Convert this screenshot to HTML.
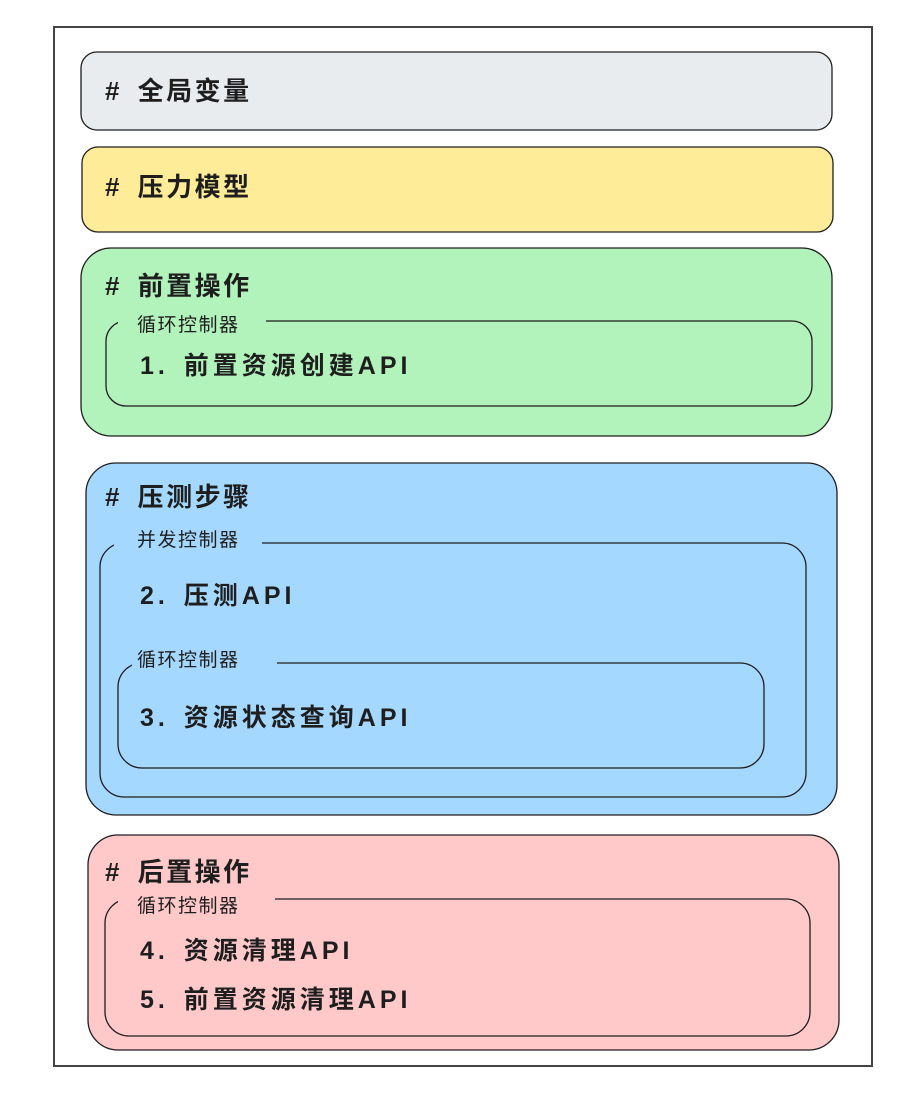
<!DOCTYPE html>
<html><head><meta charset="utf-8"><style>
html,body{margin:0;padding:0;background:#fff;}
svg{display:block;}
text{font-family:"Liberation Sans","Noto Sans CJK SC",sans-serif;fill:#1e1e1e;}
.h{font-size:26px;font-weight:bold;letter-spacing:2.5px;word-spacing:6px;}
.t{font-size:25px;font-weight:bold;letter-spacing:4px;word-spacing:4px;}
.l{font-size:19px;letter-spacing:1.5px;}
</style></head><body>
<svg width="924" height="1104" viewBox="0 0 924 1104" xmlns="http://www.w3.org/2000/svg">
<rect x="54" y="27" width="818" height="1039" fill="#fff" stroke="#444" stroke-width="2"/>
<g stroke="#1e1e1e" stroke-width="1.3">
<rect x="81" y="52" width="751" height="78" rx="16" fill="#e9ecef"/>
<rect x="82" y="147" width="751" height="85" rx="16" fill="#ffec99"/>
<rect x="81" y="248" width="751" height="188" rx="30" fill="#b2f2bb"/>
<rect x="106" y="321" width="706" height="85" rx="20" fill="#b2f2bb"/>
<rect x="86" y="463" width="751" height="352" rx="30" fill="#a5d8ff"/>
<rect x="100" y="543" width="706" height="254" rx="24" fill="#a5d8ff"/>
<rect x="118" y="663" width="646" height="105" rx="24" fill="#a5d8ff"/>
<rect x="88" y="835" width="751" height="215" rx="30" fill="#ffc9c9"/>
<rect x="105" y="899" width="705" height="137" rx="24" fill="#ffc9c9"/>
</g>
<rect x="118" y="316" width="148" height="10" fill="#b2f2bb"/>
<rect x="114" y="538" width="148" height="10" fill="#a5d8ff"/>
<rect x="132" y="658" width="145" height="10" fill="#a5d8ff"/>
<rect x="118" y="894" width="157" height="10" fill="#ffc9c9"/>
<text class="h" x="105" y="100"># 全局变量</text>
<text class="h" x="105" y="196"># 压力模型</text>
<text class="h" x="105" y="295"># 前置操作</text>
<text class="l" x="137" y="331">循环控制器</text>
<text class="t" x="140" y="374">1. 前置资源创建API</text>
<text class="h" x="105" y="506"># 压测步骤</text>
<text class="l" x="137" y="546">并发控制器</text>
<text class="t" x="140" y="604">2. 压测API</text>
<text class="l" x="137" y="666">循环控制器</text>
<text class="t" x="140" y="726">3. 资源状态查询API</text>
<text class="h" x="105" y="881"># 后置操作</text>
<text class="l" x="137" y="912">循环控制器</text>
<text class="t" x="140" y="959">4. 资源清理API</text>
<text class="t" x="140" y="1008">5. 前置资源清理API</text>
</svg>
</body></html>
